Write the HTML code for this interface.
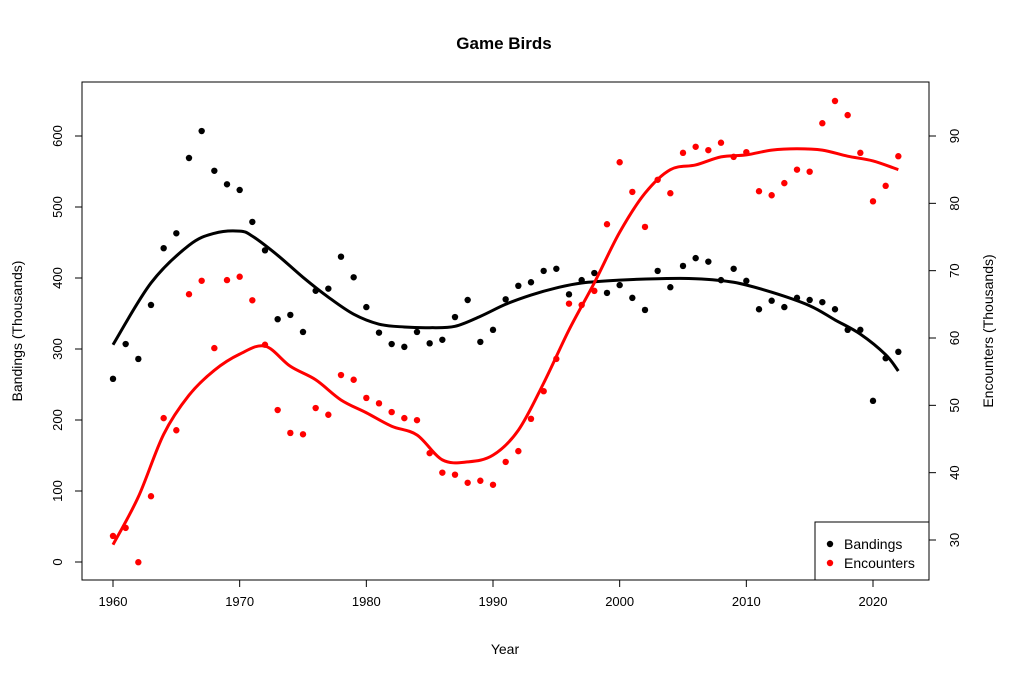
<!DOCTYPE html>
<html><head><meta charset="utf-8"><style>
body{margin:0;background:#fff}
svg{display:block;font-family:"Liberation Sans",Arial,sans-serif}
</style></head><body>
<svg id="chart" width="1012" height="683"></svg>
<script>
const years=[];for(let y=1960;y<=2022;y++)years.push(y);
const bandings=[258,307,286,362,442,463,569,607,551,532,524,479,439,342,348,324,382,385,430,401,359,323,307,303,324,308,313,345,369,310,327,370,389,394,410,413,377,397,407,379,390,372,355,410,387,417,428,423,397,413,396,356,368,359,372,369,366,356,327,327,227,287,296];
const encounters=[30.6,31.8,26.7,36.5,48.1,46.3,66.5,68.5,58.5,68.6,69.1,65.6,59.0,49.3,45.9,45.7,49.6,48.6,54.5,53.8,51.1,50.3,49.0,48.1,47.8,42.9,40.0,39.7,38.5,38.8,38.2,41.6,43.2,48.0,52.1,56.9,65.1,64.9,67.0,76.9,86.1,81.7,76.5,83.5,81.5,87.5,88.4,87.9,89.0,86.9,87.6,81.8,81.2,83.0,85.0,84.7,91.9,95.2,93.1,87.5,80.3,82.6,87.0];
const bSmoothYears=[1960,1963,1966,1968,1970,1971,1973,1975,1977,1979,1981,1983,1985,1987,1989,1991,1993,1995,1997,2000,2003,2006,2009,2012,2015,2017,2019,2021,2022];
const bSmooth=[306,393,446,463,466,459,432,401,373,349,335,331,330,332,346,363,376,386,393,397,399,399,394,380,361,341,321,292,269];
const eSmoothYears=[1960,1962,1964,1966,1968,1970,1972,1974,1976,1978,1980,1982,1984,1986,1988,1990,1992,1994,1996,1998,2000,2002,2004,2006,2008,2010,2012,2014,2016,2018,2020,2022];
const eSmooth=[29.3,36.4,45.7,51.5,55.2,57.6,58.8,55.8,53.8,50.8,48.9,46.9,45.6,41.9,41.6,42.6,46.3,53.3,61.2,68.2,75.7,81.5,85.0,85.7,86.9,87.2,87.9,88.1,87.9,87.0,86.3,85.0];
const xTicks=[1960,1970,1980,1990,2000,2010,2020];
const yLeftTicks=[0,100,200,300,400,500,600];
const yRightTicks=[30,40,50,60,70,80,90];

const NS="http://www.w3.org/2000/svg";
const svg=document.getElementById('chart');
const X=v=>113+(v-1960)*76/6;
const YL=v=>562-v*0.71;
const YR=v=>540-(v-30)*6.7333;
function el(tag,attrs,parent){const e=document.createElementNS(NS,tag);for(const k in attrs)e.setAttribute(k,attrs[k]);(parent||svg).appendChild(e);return e;}
function txt(s,attrs){const t=el('text',attrs);t.textContent=s;return t;}

const box=el('rect',{x:82,y:82,width:847,height:498,fill:'none',stroke:'#000','stroke-width':1});



const title=txt('Game Birds',{x:504,y:49,'text-anchor':'middle','font-size':17,'font-weight':'bold'});



xTicks.forEach(v=>{
 const l=el('line',{x1:X(v),x2:X(v),y1:580,y2:587,stroke:'#000'});
 
 
 const t=txt(v,{x:X(v),y:606,'text-anchor':'middle','font-size':13});
 
 
});
el('line',{x1:X(1960),x2:X(2020),y1:580,y2:580,stroke:'#000'});
yLeftTicks.forEach(v=>{
 const l=el('line',{x1:75,x2:82,y1:YL(v),y2:YL(v),stroke:'#000'});
 
 
 const t=txt(v,{x:0,y:0,'text-anchor':'middle','font-size':13,transform:`translate(62,${YL(v)}) rotate(-90)`});
 
 
});
yRightTicks.forEach(v=>{
 const l=el('line',{x1:929,x2:936,y1:YR(v),y2:YR(v),stroke:'#000'});
 
 
 const t=txt(v,{x:0,y:0,'text-anchor':'middle','font-size':13,transform:`translate(959,${YR(v)}) rotate(-90)`});
 
 
});
const xl=txt('Year',{x:505,y:654,'text-anchor':'middle','font-size':14});


const yl=txt('Bandings (Thousands)',{x:0,y:0,'text-anchor':'middle','font-size':14,transform:'translate(22,331) rotate(-90)'});


const yr=txt('Encounters (Thousands)',{x:0,y:0,'text-anchor':'middle','font-size':14,transform:'translate(993,331) rotate(-90)'});



function smoothPath(xs,ys){
 const p=xs.map((x,i)=>[x,ys[i]]);
 let d=`M${p[0][0]},${p[0][1]}`;
 for(let i=0;i<p.length-1;i++){
  const p0=p[i-1]||p[i],p1=p[i],p2=p[i+1],p3=p[i+2]||p2;
  const c1=[p1[0]+(p2[0]-p0[0])/6,p1[1]+(p2[1]-p0[1])/6];
  const c2=[p2[0]-(p3[0]-p1[0])/6,p2[1]-(p3[1]-p1[1])/6];
  d+=`C${c1[0]},${c1[1]} ${c2[0]},${c2[1]} ${p2[0]},${p2[1]}`;
 }
 return d;
}
years.forEach((y,i)=>{
 const c=el('circle',{cx:X(y),cy:YL(bandings[i]),r:3.2,fill:'#000'});
 
 
});
years.forEach((y,i)=>{
 const c=el('circle',{cx:X(y),cy:YR(encounters[i]),r:3.2,fill:'#ff0000'});
 
 
});
const bl=el('path',{d:smoothPath(bSmoothYears.map(X),bSmooth.map(YL)),fill:'none',stroke:'#000','stroke-width':3});


const rl=el('path',{d:smoothPath(eSmoothYears.map(X),eSmooth.map(YR)),fill:'none',stroke:'#ff0000','stroke-width':3});



const lg=el('g',{});


el('rect',{x:815,y:522,width:114,height:58,fill:'#fff',stroke:'#000'},lg);
el('circle',{cx:830,cy:544,r:3.2,fill:'#000'},lg);
el('circle',{cx:830,cy:563,r:3.2,fill:'#ff0000'},lg);
const t1=el('text',{x:844,y:549,'font-size':14},lg);t1.textContent='Bandings';


const t2=el('text',{x:844,y:568,'font-size':14},lg);t2.textContent='Encounters';


</script>
</body></html>
